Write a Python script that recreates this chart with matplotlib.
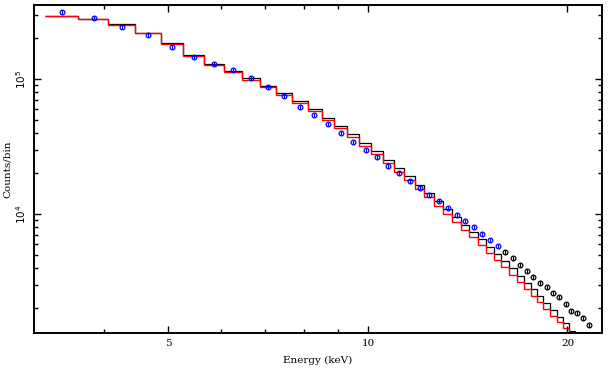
import matplotlib
matplotlib.use("Agg")
import matplotlib.pyplot as plt
from matplotlib.ticker import FixedLocator, NullFormatter
import numpy as np

# model histograms (bin edges in keV, counts per bin)
red_edges = [3.256, 3.652, 4.053, 4.452, 4.873, 5.259, 5.656, 6.063, 6.455, 6.873,
             7.265, 7.680, 8.120, 8.523, 8.886, 9.297, 9.692, 10.10, 10.53, 10.95,
             11.33, 11.77, 12.15, 12.58, 12.98, 13.39, 13.82, 14.20, 14.65, 15.07,
             15.50, 15.88, 16.32, 16.78, 17.19, 17.62, 17.99, 18.37, 18.82, 19.28,
             19.69, 20.10, 20.52]
red_counts = [2.93e5, 2.77e5, 2.50e5, 2.18e5, 1.82e5, 1.48e5, 1.27e5, 1.127e5, 9.83e4, 8.72e4,
              7.61e4, 6.64e4, 5.79e4, 4.97e4, 4.34e4, 3.72e4, 3.19e4, 2.78e4, 2.39e4, 2.05e4,
              1.786e4, 1.532e4, 1.336e4, 1.146e4, 1.00e4, 8.72e3, 7.61e3, 6.75e3, 5.89e3, 5.14e3,
              4.56e3, 4.05e3, 3.53e3, 3.13e3, 2.78e3, 2.47e3, 2.23e3, 1.98e3, 1.755e3, 1.585e3,
              1.43e3, 1.20e3]

black_edges = red_edges + [20.96]
black_counts = [2.93e5, 2.80e5, 2.54e5, 2.21e5, 1.85e5, 1.51e5, 1.30e5, 1.15e5, 1.01e5, 8.95e4,
                7.85e4, 6.85e4, 5.98e4, 5.17e4, 4.52e4, 3.90e4, 3.36e4, 2.93e4, 2.53e4, 2.18e4,
                1.91e4, 1.65e4, 1.44e4, 1.245e4, 1.09e4, 9.5e3, 8.35e3, 7.4e3, 6.5e3, 5.7e3,
                5.05e3, 4.5e3, 3.95e3, 3.5e3, 3.1e3, 2.76e3, 2.47e3, 2.2e3, 1.95e3, 1.74e3,
                1.55e3, 1.37e3, 1.2e3]

# data points
data_energy = [3.453, 3.860, 4.254, 4.658, 5.061, 5.464, 5.857, 6.256, 6.661, 7.066,
               7.470, 7.894, 8.289, 8.702, 9.106, 9.492, 9.931, 10.32, 10.72, 11.14,
               11.57, 11.98, 12.36, 12.80, 13.20, 13.62, 14.01, 14.45, 14.86, 15.28,
               15.71, 16.09, 16.55, 16.96, 17.37, 17.74, 18.17, 18.62, 19.01, 19.41,
               19.89, 20.24, 20.67, 21.10, 21.55]
data_counts = [3.135e5, 2.83e5, 2.428e5, 2.118e5, 1.726e5, 1.455e5, 1.292e5, 1.166e5, 1.017e5, 8.72e4,
               7.48e4, 6.20e4, 5.41e4, 4.64e4, 3.98e4, 3.41e4, 2.98e4, 2.645e4, 2.268e4, 2.012e4,
               1.755e4, 1.558e4, 1.382e4, 1.248e4, 1.108e4, 9.83e3, 8.87e3, 8.01e3, 7.11e3, 6.42e3,
               5.79e3, 5.23e3, 4.72e3, 4.19e3, 3.78e3, 3.41e3, 3.08e3, 2.88e3, 2.60e3, 2.43e3,
               2.154e3, 1.912e3, 1.848e3, 1.697e3, 1.505e3]

x_label_ticks = [5, 10, 20]
x_minor_ticks = [4, 6, 7, 8, 9]

plt.rcParams["font.family"] = ["DejaVu Serif"]

fig = plt.figure(figsize=(6.08, 3.70), dpi=100)
ax = fig.add_axes([34 / 608, 37 / 370, 568 / 608, 328 / 370])
ax.set_xscale("log")
ax.set_yscale("log")

ax.stairs(black_counts, black_edges, color="black", lw=0.9, baseline=None)
ax.stairs(red_counts, red_edges, color="#ff0000", lw=1.0, baseline=None)

e = np.array(data_energy)
c = np.array(data_counts)
split = e >= 16.0
for mask, col in [(~split, "#0000ff"), (split, "black")]:
    ax.plot(e[mask], c[mask], "o", ms=3.4, mfc="none", mec=col, mew=0.9, ls="none")
    ax.plot(e[mask], c[mask], "|", ms=2.2, mec=col, mew=0.9, ls="none")

ax.set_xlim(3.134, 22.55)
ax.set_ylim(1314, 3.533e5)

ax.xaxis.set_major_locator(FixedLocator(x_label_ticks))
ax.xaxis.set_minor_locator(FixedLocator(x_minor_ticks))
ax.set_xticklabels([str(t) for t in x_label_ticks])
ax.xaxis.set_minor_formatter(NullFormatter())

ax.yaxis.set_major_locator(FixedLocator([1e4, 1e5]))
ax.yaxis.set_minor_locator(FixedLocator([2e3, 3e3, 4e3, 5e3, 6e3, 7e3, 8e3, 9e3,
                                         2e4, 3e4, 4e4, 5e4, 6e4, 7e4, 8e4, 9e4,
                                         2e5, 3e5]))
ax.set_yticklabels([r"$10^4$", r"$10^5$"], rotation=90, va="center")
ax.yaxis.set_minor_formatter(NullFormatter())

ax.tick_params(which="both", direction="in", top=True, right=True, labelsize=7.5, width=1)
ax.tick_params(which="major", length=5, pad=4)
ax.tick_params(which="minor", length=3)
for s in ax.spines.values():
    s.set_linewidth(1.4)

ax.set_xlabel("Energy (keV)", fontsize=7.5, labelpad=6)
ax.set_ylabel("Counts/bin", fontsize=7.5, labelpad=2)

fig.savefig("out.png", dpi=100)
